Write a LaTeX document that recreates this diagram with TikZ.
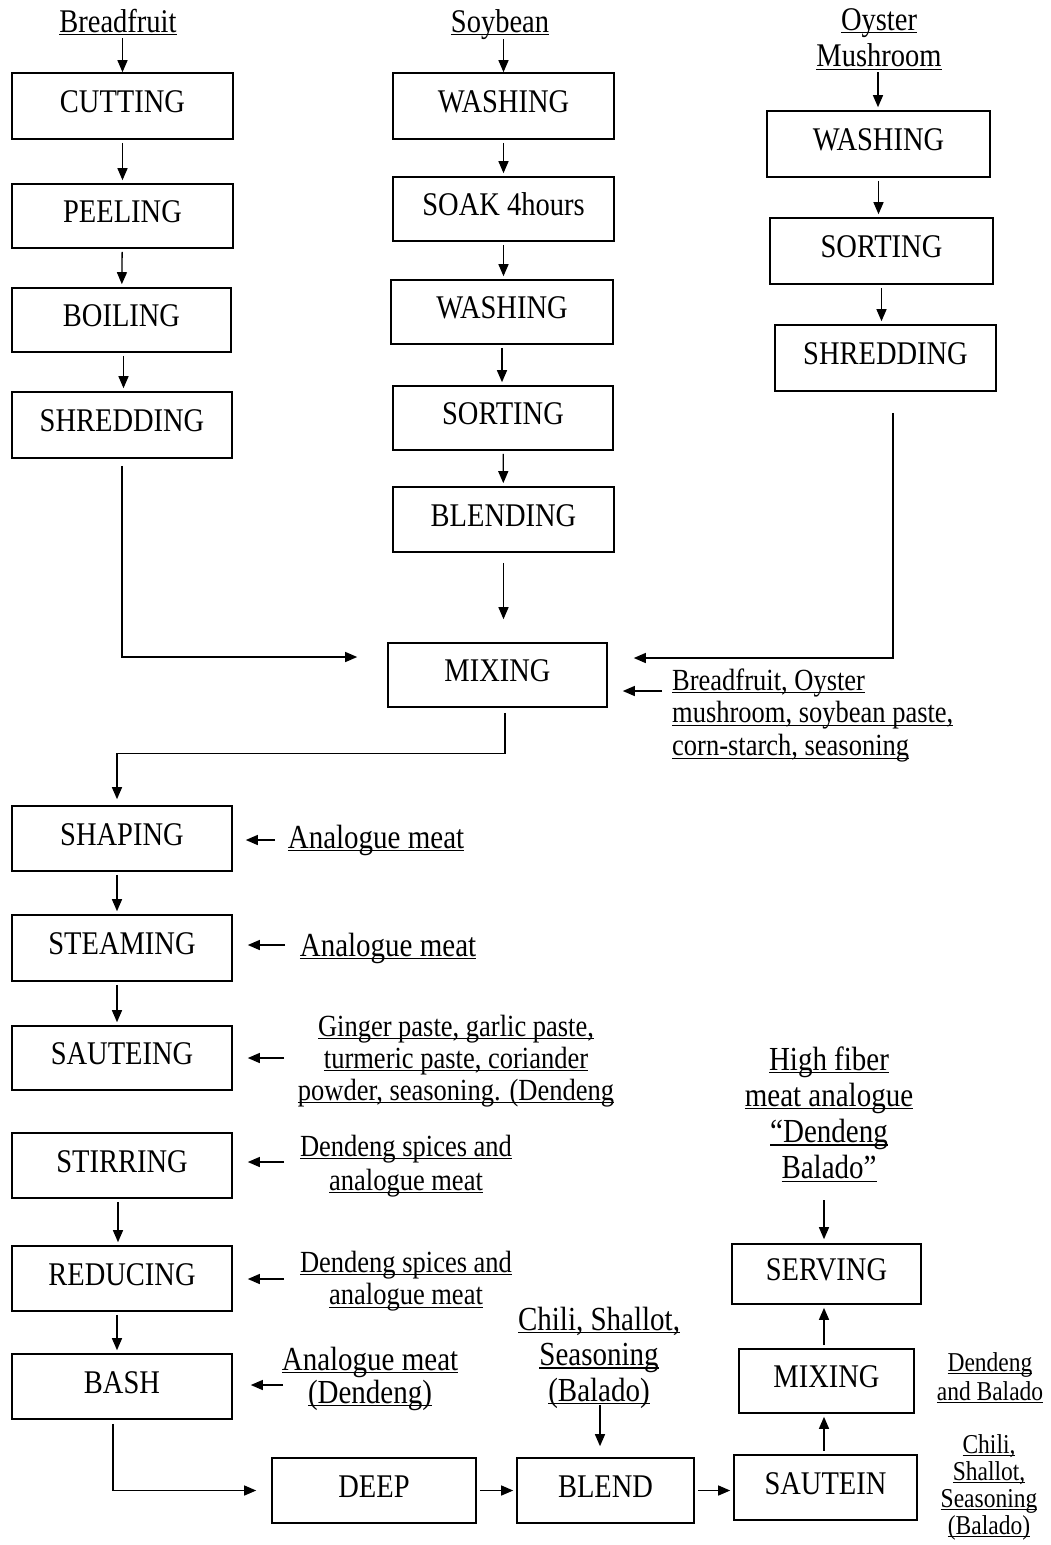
\documentclass[tikz,border=0pt]{standalone}
\usepackage{fontspec}
\usepackage{graphicx}
\setmainfont{Liberation Serif}
\usetikzlibrary{arrows.meta}
\newcommand\vs[1]{\scalebox{1}[1.16]{#1}}
\newcommand\uln[1]{\setbox0\hbox{\vs{#1}}\rlap{\rule[-3pt]{\wd0}{1.3pt}}\box0}
\newcommand\lns[2]{{\renewcommand\arraystretch{#1}\begin{tabular}[t]{@{}c@{}}#2\end{tabular}}}
\newcommand\lnsl[2]{{\renewcommand\arraystretch{#1}\begin{tabular}[t]{@{}l@{}}#2\end{tabular}}}
\begin{document}
\begin{tikzpicture}[x=1pt,y=-1pt,
 every node/.style={font=\fontsize{28.5}{34}\selectfont},
 pbox/.style={draw, line width=1.6pt, inner sep=0pt, text height=23pt, text depth=10pt},
 lab/.style={inner sep=0pt, anchor=base},
 labl/.style={inner sep=0pt, anchor=base west},
 bigt/.style={font=\fontsize{29}{34}\selectfont},
 midt/.style={font=\fontsize{26.5}{32}\selectfont},
 smallt/.style={font=\fontsize{23.5}{28}\selectfont},
 arr/.style={line width=1.3pt, -{Triangle[length=12pt,width=10pt]}},
 dn/.style={arr, shorten <=3pt, shorten >=3pt}]
\useasboundingbox (0,0) rectangle (1050,1545);

% ---- labels at top
\node[lab] (breadL) at (118,32) {\uln{Breadfruit}};
\node[lab] (soyL) at (500,32) {\uln{Soybean}};
\node[lab] (oysL) at (879,30) {\lns{1.088}{\uln{Oyster}\\\uln{Mushroom}}};

% ---- left column
\node[pbox, minimum width=221pt, minimum height=66pt] (cut) at (122.5,106) {\vs{CUTTING}};
\node[pbox, minimum width=221pt, minimum height=64pt] (peel) at (122.5,216) {\vs{PEELING}};
\node[pbox, minimum width=219pt, minimum height=64pt] (boil) at (121.5,320) {\vs{BOILING}};
\node[pbox, minimum width=220pt, minimum height=66pt] (shredL) at (122,425) {\vs{SHREDDING}};

% ---- middle column
\node[pbox, minimum width=221pt, minimum height=66pt] (wash1) at (503.5,106) {\vs{WASHING}};
\node[pbox, minimum width=221pt, minimum height=64pt] (soak) at (503.5,209) {\vs{SOAK 4hours}};
\node[pbox, minimum width=222pt, minimum height=64pt] (wash2) at (502,312) {\vs{WASHING}};
\node[pbox, minimum width=220pt, minimum height=64pt] (sort) at (503,418) {\vs{SORTING}};
\node[pbox, minimum width=221pt, minimum height=65pt] (blend) at (503.5,519.5) {\vs{BLENDING}};
\node[pbox, minimum width=219pt, minimum height=64pt] (mix1) at (497.5,675) {\vs{MIXING}};

% ---- right column
\node[pbox, minimum width=223pt, minimum height=66pt] (wash3) at (878.5,144) {\vs{WASHING}};
\node[pbox, minimum width=223pt, minimum height=66pt] (sort3) at (881.5,251) {\vs{SORTING}};
\node[pbox, minimum width=221pt, minimum height=66pt] (shred3) at (885.5,358) {\vs{SHREDDING}};

\node[labl, midt] (ingL) at (672,690) {\lnsl{1.03}{\uln{Breadfruit, Oyster}\\\uln{mushroom, soybean paste,}\\\uln{corn-starch, seasoning}}};

% ---- lower left column
\node[pbox, minimum width=220pt, minimum height=65pt] (shape) at (122,838.5) {\vs{SHAPING}};
\node[pbox, minimum width=220pt, minimum height=66pt] (steam) at (122,948) {\vs{STEAMING}};
\node[pbox, minimum width=220pt, minimum height=64pt] (saute) at (122,1058) {\vs{SAUTEING}};
\node[pbox, minimum width=220pt, minimum height=65pt] (stir) at (122,1165.5) {\vs{STIRRING}};
\node[pbox, minimum width=220pt, minimum height=65pt] (reduce) at (122,1278.5) {\vs{REDUCING}};
\node[pbox, minimum width=220pt, minimum height=65pt] (bash) at (122,1386.5) {\vs{BASH}};

\node[lab, bigt] (shapeL) at (376,848) {\uln{Analogue meat}};
\node[lab, bigt] (steamL) at (388,956) {\uln{Analogue meat}};
\node[lab, midt] (sauteL) at (456,1036) {\lns{1}{\uln{Ginger paste, garlic paste,}\\\uln{turmeric paste, coriander}\\\uln{powder, seasoning. (Dendeng}}};
\node[lab, midt] (stirL) at (406,1156) {\lns{1.0625}{\uln{Dendeng spices and}\\\uln{analogue meat}}};
\node[lab, midt] (reduceL) at (406,1272) {\lns{1.03}{\uln{Dendeng spices and}\\\uln{analogue meat}}};
\node[lab, bigt] (bashL) at (370,1370) {\lns{0.97}{\uln{Analogue meat}\\\uln{(Dendeng)}}};

% ---- bottom row
\node[pbox, minimum width=204pt, minimum height=65pt] (deep) at (374,1490.5) {\vs{DEEP}};
\node[pbox, minimum width=177pt, minimum height=65pt] (blend2) at (605.5,1490.5) {\vs{BLEND}};
\node[pbox, minimum width=183pt, minimum height=65pt] (sautein) at (825.5,1487.5) {\vs{SAUTEIN}};
\node[pbox, minimum width=175pt, minimum height=64pt] (mix2) at (826.5,1381) {\vs{MIXING}};
\node[pbox, minimum width=189pt, minimum height=60pt] (serve) at (826.5,1274) {\vs{SERVING}};

\node[lab, bigt] (hfL) at (829,1070) {\lns{1.068}{\uln{High fiber}\\\uln{meat analogue}\\\uln{``Dendeng}\\\uln{Balado''}}};
\node[lab, bigt] (chiliL) at (599,1330) {\lns{1.044}{\uln{Chili, Shallot,}\\\uln{Seasoning}\\\uln{(Balado)}}};
\node[lab, smallt] (dbL) at (990,1371) {\lns{1.036}{\uln{Dendeng}\\\uln{and Balado}}};
\node[lab, smallt] (chili2L) at (989,1453) {\lns{0.964}{\uln{Chili,}\\\uln{Shallot,}\\\uln{Seasoning}\\\uln{(Balado)}}};

% ---- arrow tails
\coordinate (tIng) at (662,691);
\coordinate (tShape) at (275,840);
\coordinate (tSteam) at (285,945);
\coordinate (tSaute) at (284,1058);
\coordinate (tStir) at (284,1162);
\coordinate (tReduce) at (284,1279);
\coordinate (tBash) at (283,1385);
\coordinate (tChili) at (600,1405);
\coordinate (tHf) at (824,1200);
\coordinate (tOys) at (878,72);

% ---- connectors: top
\draw[arr, shorten <=3pt] (cut.north |- breadL.south) -- (cut.north);
\draw[arr, shorten <=0pt] (wash1.north |- soyL.south) -- (wash1.north);
\draw[arr, shorten >=3pt] (tOys) -- (tOys |- wash3.north);

\draw[dn] (cut) -- (peel);
\draw[dn] (peel) -- (boil);
\draw[dn] ([xshift=2pt]boil.south) -- ([xshift=2pt]boil.south |- shredL.north);

\draw[dn] (wash1) -- (soak);
\draw[dn] (soak.south) -- (soak.south |- wash2.north);
\draw[dn] (wash2.south) -- (wash2.south |- sort.north);
\draw[dn] (sort) -- (blend);
\draw[arr, shorten <=10pt, shorten >=23pt] (blend.south) -- (blend.south |- mix1.north);

\draw[dn] (wash3.south) -- (wash3.south |- sort3.north);
\draw[dn] (sort3.south) -- (sort3.south |- shred3.north);

\draw[arr, shorten <=7pt, shorten >=30pt] (shredL.south) |- ([yshift=18pt]mix1.west);
\draw[arr, shorten <=21pt, shorten >=26pt] ([xshift=7.5pt]shred3.south) |- ([yshift=17pt]mix1.east);
\draw[arr, shorten >=15pt] (tIng) -- (tIng -| mix1.east);

\draw[arr, shorten <=5pt, shorten >=6pt] ([xshift=7.5pt]mix1.south) -- ++(0,46) -| ([xshift=-5pt]shape.north);

% ---- lower left
\draw[dn] ([xshift=-5pt]shape.south) -- ([xshift=-5pt]steam.north);
\draw[dn] ([xshift=-5pt]steam.south) -- ([xshift=-5pt]saute.north);
\draw[dn] ([xshift=-4pt]stir.south) -- ([xshift=-4pt]reduce.north);
\draw[dn] ([xshift=-5pt]reduce.south) -- ([xshift=-5pt]bash.north);

\draw[arr, shorten >=13pt] (tShape) -- (tShape -| shape.east);
\draw[arr, shorten >=15pt] (tSteam) -- (tSteam -| steam.east);
\draw[arr, shorten >=15pt] (tSaute) -- (tSaute -| saute.east);
\draw[arr, shorten >=15pt] (tStir) -- (tStir -| stir.east);
\draw[arr, shorten >=15pt] (tReduce) -- (tReduce -| reduce.east);
\draw[arr, shorten >=18pt] (tBash) -- (tBash -| bash.east);

% ---- bottom
\draw[arr, shorten <=4pt, shorten >=15pt] ([xshift=-9pt]bash.south) |- (deep.west);
\draw[dn] (deep) -- (blend2);
\draw[dn] (blend2.east) -- (blend2.east -| sautein.west);
\draw[arr, shorten >=11pt] (tChili) -- (tChili |- blend2.north);
\draw[dn] ([xshift=-1.5pt]sautein.north) -- ([xshift=-1.5pt]sautein.north |- mix2.south);
\draw[dn] ([xshift=-2.5pt]mix2.north) -- ([xshift=-2.5pt]mix2.north |- serve.south);
\draw[arr, shorten >=4pt] (tHf) -- (tHf |- serve.north);
\end{tikzpicture}
\end{document}
